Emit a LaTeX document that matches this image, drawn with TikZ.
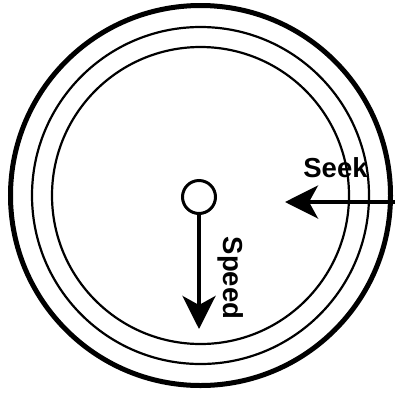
\documentclass[tikz,border=0pt]{standalone}
\usepackage{fontspec}
\setmainfont{Liberation Sans}
\usetikzlibrary{arrows.meta}
\begin{document}
\begin{tikzpicture}[x=1pt,y=-1pt,
  ring/.style={draw=black,line width=2.2pt},
  bigring/.style={draw=black,line width=5pt},
  hubstyle/.style={circle,draw=black,line width=3pt,minimum size=33pt,inner sep=0pt},
  arrowline/.style={line width=4pt,-{Stealth[length=33pt,width=33pt,inset=9pt]}},
  lbl/.style={font=\fontsize{27.5}{31}\selectfont\bfseries,inner sep=0pt}]
\useasboundingbox (0,0) rectangle (395,394);
\draw[bigring] (200.5,195.5) circle[radius=190];
\draw[ring] (200.5,195.5) circle[radius=168.5];
\draw[ring] (200.5,195.5) circle[radius=148.5];
\node[hubstyle] (hub) at (199,197) {};
\coordinate (speedtip) at (199,329);
\draw[arrowline] (hub.south) -- (speedtip);
\coordinate (seekstart) at (397,202);
\coordinate (seektip) at (285,202);
\draw[arrowline] (seekstart) -- (seektip);
\node[lbl,anchor=base] (seek) at (335.5,177.5) {Seek};
\node[lbl,anchor=base,rotate=-90] (speed) at (223,278) {Speed};
\end{tikzpicture}
\end{document}
